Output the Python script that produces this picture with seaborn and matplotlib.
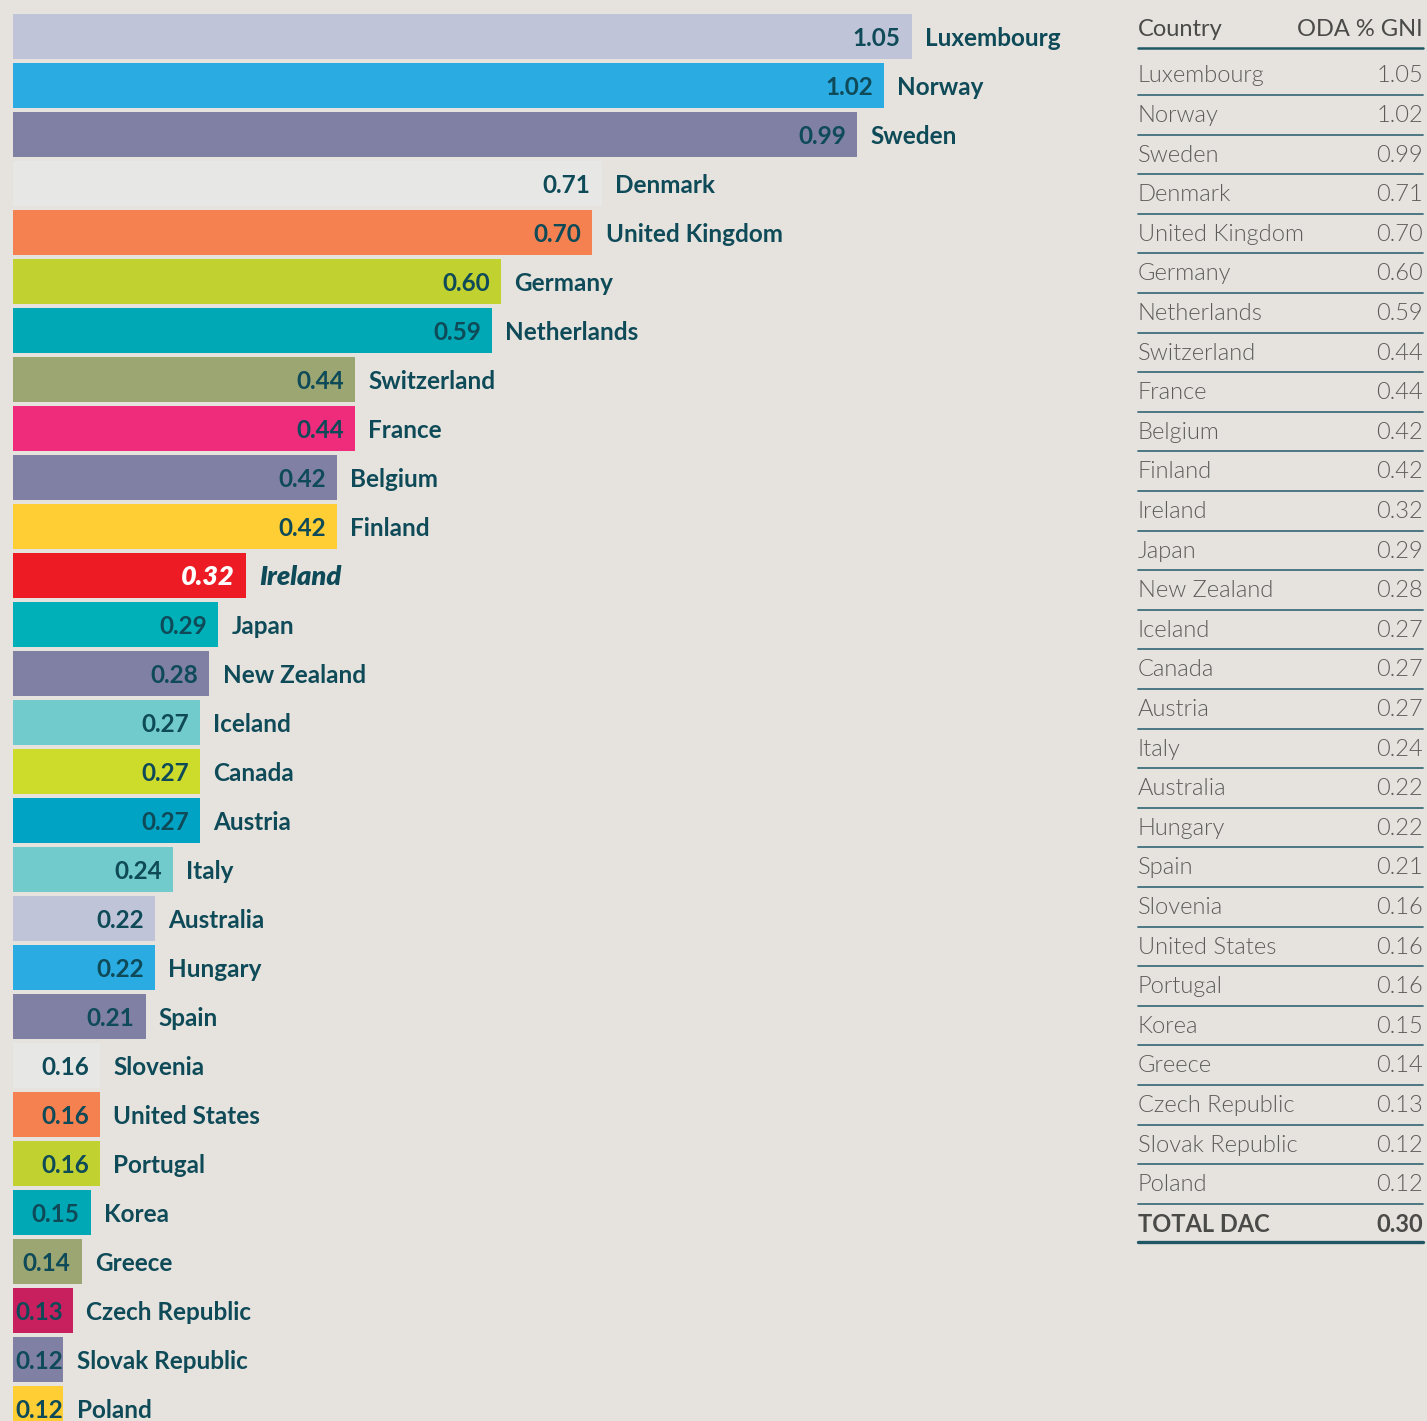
import matplotlib
matplotlib.use("Agg")
import matplotlib.pyplot as plt
import seaborn as sns
import pandas as pd

# ODA as % of GNI, DAC donors
countries = ["Luxembourg", "Norway", "Sweden", "Denmark", "United Kingdom", "Germany",
             "Netherlands", "Switzerland", "France", "Belgium", "Finland", "Ireland",
             "Japan", "New Zealand", "Iceland", "Canada", "Austria", "Italy", "Australia",
             "Hungary", "Spain", "Slovenia", "United States", "Portugal", "Korea",
             "Greece", "Czech Republic", "Slovak Republic", "Poland"]
oda_gni = [1.05, 1.02, 0.99, 0.71, 0.70, 0.60, 0.59, 0.44, 0.44, 0.42, 0.42, 0.32,
           0.29, 0.28, 0.27, 0.27, 0.27, 0.24, 0.22, 0.22, 0.21, 0.16, 0.16, 0.16,
           0.15, 0.14, 0.13, 0.12, 0.12]
bar_colors = ["#c0c4d8", "#2aabe2", "#8080a4", "#e7e8e6", "#f58151", "#c1d130",
              "#00a8b5", "#9ba672", "#ef2b7c", "#8080a4", "#ffcd34", "#ed1c24",
              "#00b0b9", "#8080a4", "#71cacb", "#cddb2a", "#00a3c4", "#71cacb",
              "#c0c4d8", "#2aabe2", "#8080a4", "#e7e8e6", "#f58151", "#c1d130",
              "#00a8b5", "#9ba672", "#c81f5f", "#8080a4", "#ffcd34"]
highlight = "Ireland"
total_label = "TOTAL DAC"
total_value = 0.30

bg = "#e6e3de"
ink = "#0e4a58"
grey = "#5c5c5a"
rule = "#3f6f7c"

df = pd.DataFrame({"Country": countries, "ODA": oda_gni})

sns.set_theme(style="white")
plt.rcParams["font.family"] = ["Lato", "DejaVu Sans"]

W, H = 1427, 1421
fig = plt.figure(figsize=(W / 100, H / 100), dpi=100, facecolor=bg)

# bar chart axes
x0_px, x1_px = 13, 1110
px_per_unit = 912
x_start = 0.0647
ax = fig.add_axes([x0_px / W, 0, (x1_px - x0_px) / W, 1])
ax.set_facecolor(bg)
sns.barplot(data=df, x="ODA", y="Country", hue="Country", palette=bar_colors,
            legend=False, width=45 / 49, saturation=1, linewidth=0, ax=ax, orient="h")
ax.set_xlim(x_start, x_start + (x1_px - x0_px) / px_per_unit)
ax.set_ylim(28.255, -0.745)
ax.axis("off")

value_texts = []
for i, (c, v) in enumerate(zip(countries, oda_gni)):
    hl = c == highlight
    kw = dict(fontsize=19.5, fontweight="heavy", fontstyle="italic") if hl else \
        dict(fontsize=17.5, fontweight="bold")
    t = ax.annotate(f"{v:.2f}", (v, i), xytext=(-8, -1.2), textcoords="offset points",
                    ha="right", va="center", color="white" if hl else ink, **kw)
    value_texts.append(t)
    ax.annotate(c, (v, i), xytext=(9.5, -1.2), textcoords="offset points",
                ha="left", va="center", color=ink, annotation_clip=False, **kw)

# small bars: keep the number from running off the left edge
fig.canvas.draw()
renderer = fig.canvas.get_renderer()
for t in value_texts:
    bb = t.get_window_extent(renderer)
    if bb.x0 < 15:
        t.xyann = (t.xyann[0] + (15 - bb.x0) * 72 / 100, t.xyann[1])

# table on the right, in pixel coordinates
tx = fig.add_axes([0, 0, 1, 1])
tx.set_xlim(0, W)
tx.set_ylim(H, 0)
tx.axis("off")
tx.patch.set_alpha(0)
left, right = 1138, 1423
tx.text(left, 29, "Country", ha="left", va="center", fontsize=17, color="#4a4a48")
tx.text(right, 29, "ODA % GNI", ha="right", va="center", fontsize=17, color="#4a4a48")
tx.plot([left, right], [47.5, 47.5], color="#1f5765", lw=1.8)

row0, pitch = 76, 39.6
for i, (c, v) in enumerate(zip(countries, oda_gni)):
    y = row0 + pitch * i
    tx.text(left, y, c, ha="left", va="center", fontsize=17, fontweight=300, color=grey)
    tx.text(right, y, f"{v:.2f}", ha="right", va="center", fontsize=17,
            fontweight=300, color=grey)
    tx.plot([left, right], [y + 19, y + 19], color=rule, lw=1.3)

y = row0 + pitch * len(countries)
tx.text(left, y, total_label, ha="left", va="center", fontsize=17, fontweight="bold", color="#4a4a48")
tx.text(right, y, f"{total_value:.2f}", ha="right", va="center", fontsize=17,
        fontweight="bold", color="#4a4a48")
tx.plot([left, right], [y + 18, y + 18], color="#1f5765", lw=2.4)

fig.savefig("out.png", dpi=100, facecolor=bg)
